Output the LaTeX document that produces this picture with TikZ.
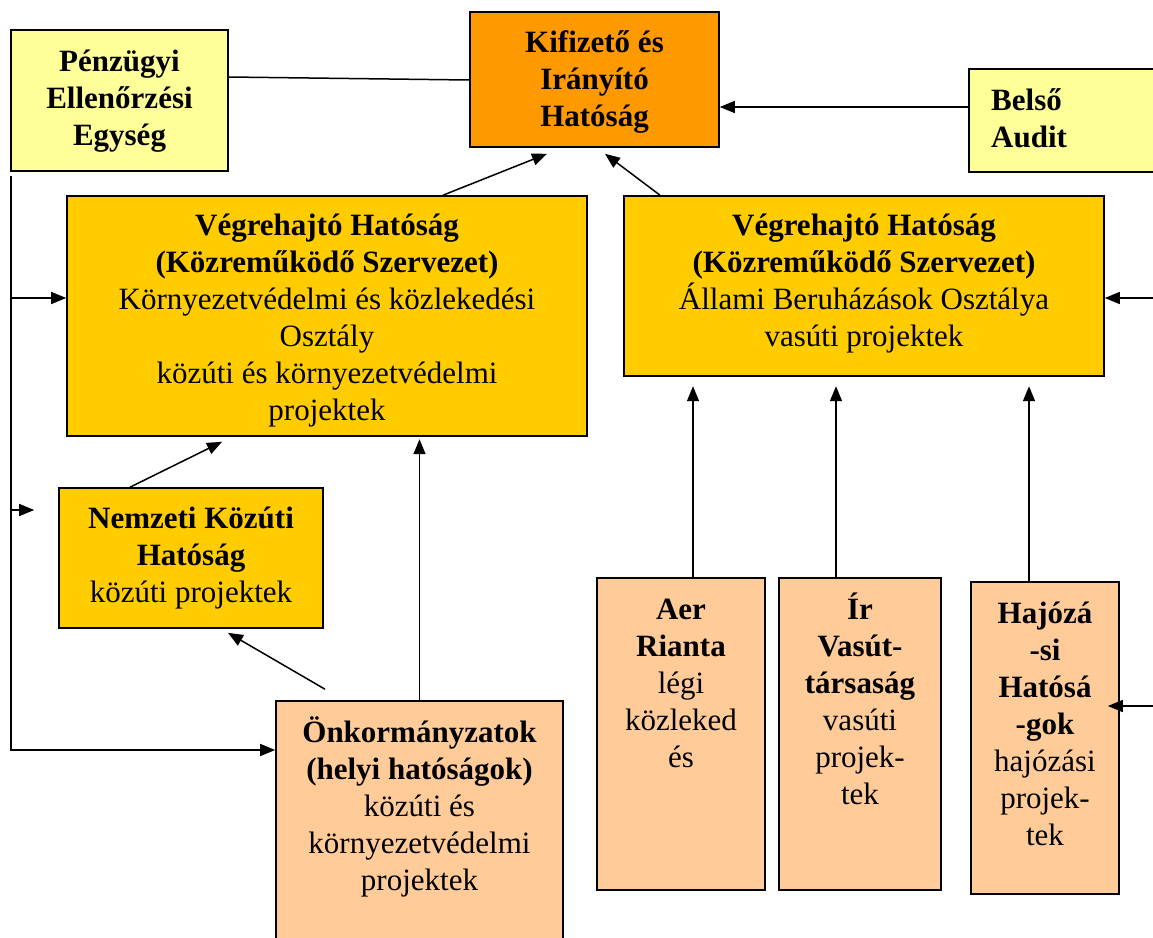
\documentclass[tikz,border=0pt]{standalone}
\usepackage{fontspec}
\setmainfont{Liberation Serif}
\usetikzlibrary{arrows.meta}

\definecolor{paleyellow}{HTML}{FFFF99}
\definecolor{darkorange}{HTML}{FF9900}
\definecolor{goldbox}{HTML}{FFCC00}
\definecolor{peach}{HTML}{FFCC99}

% invisible strut fixing the height of a text block's first line
\newcommand{\firstline}{\rule{0pt}{30pt}}

\begin{document}
\begin{tikzpicture}[x=1pt, y=-1pt,
  box/.style={draw=black, line width=1.6pt, rectangle, inner sep=0pt},
  txt/.style={inner sep=0pt, align=center, anchor=north,
    font=\fontsize{31}{37}\selectfont},
  conn/.style={line width=1.5pt, draw=black},
  arr/.style={conn, -{Triangle[length=15pt, width=12pt]}}]

\useasboundingbox (0,0) rectangle (1153,937);
\clip (0,0) rectangle (1153,937);
\fill[white] (0,0) rectangle (1153,937);

% ---- boxes ----
\node[box, fill=paleyellow, minimum width=217pt, minimum height=141pt] (pen) at (119.5,100.5) {};
\node[box, fill=darkorange, minimum width=249pt, minimum height=135pt] (kif) at (594.5,79.5) {};
\node[box, fill=paleyellow, minimum width=191pt, minimum height=103pt] (bel) at (1064.5,120.5) {};
\node[box, fill=goldbox, minimum width=520pt, minimum height=240pt] (vl) at (327,316) {};
\node[box, fill=goldbox, minimum width=480pt, minimum height=180pt] (vr) at (864,286) {};
\node[box, fill=goldbox, minimum width=264pt, minimum height=140pt] (nem) at (191,558) {};
\node[box, fill=peach, minimum width=287pt, minimum height=249pt] (onk) at (419.5,825.5) {};
\node[box, fill=peach, minimum width=168pt, minimum height=312pt] (aer) at (681,734) {};
\node[box, fill=peach, minimum width=162pt, minimum height=312pt] (ir) at (860,734) {};
\node[box, fill=peach, minimum width=148pt, minimum height=312pt] (haj) at (1045,738) {};

% ---- texts ----
\node[txt] (pent) at (119.5,41) {\firstline\textbf{Pénzügyi}\\\textbf{Ellenőrzési}\\\textbf{Egység}};
\node[txt] (kift) at (594.5,22) {\firstline\textbf{Kifizető és}\\\textbf{Irányító}\\\textbf{Hatóság}};
\node[txt, align=left, anchor=north west] (belt) at (991,80) {\firstline\textbf{Belső}\\\textbf{Audit}};
\node[txt] (vlt) at (327,205) {\firstline\textbf{Végrehajtó Hatóság}\\\textbf{(Közreműködő Szervezet)}\\Környezetvédelmi és közlekedési\\Osztály\\közúti és környezetvédelmi\\projektek};
\node[txt] (vrt) at (864,205) {\firstline\textbf{Végrehajtó Hatóság}\\\textbf{(Közreműködő Szervezet)}\\Állami Beruházások Osztálya\\vasúti projektek};
\node[txt] (nemt) at (191,498) {\firstline\textbf{Nemzeti Közúti}\\\textbf{Hatóság}\\közúti projektek};
\node[txt] (onkt) at (419.5,712) {\firstline\textbf{Önkormányzatok}\\\textbf{(helyi hatóságok)}\\közúti és\\környezetvédelmi\\projektek};
\node[txt] (aert) at (681,589) {\firstline\textbf{Aer}\\\textbf{Rianta}\\légi\\közleked\\és};
\node[txt] (irt) at (860,589) {\firstline\textbf{Ír}\\\textbf{Vasút-}\\\textbf{társaság}\\vasúti\\projek-\\tek};
\node[txt] (hajt) at (1045,593) {\firstline\textbf{Hajózá}\\\textbf{-si}\\\textbf{Hatósá}\\\textbf{-gok}\\hajózási\\projek-\\tek};

% ---- free ends of the connectors ----
\coordinate (bustop) at (11,176);
\coordinate (busbot) at (11,750);
\coordinate (bus1) at (11,298);
\coordinate (bus2) at (11,510);
\coordinate (redge1) at (1153,298);
\coordinate (redge2) at (1153,706);

% ---- connectors ----
\draw[conn] ([yshift=23.5pt]pen.east) -- ([yshift=-0.5pt]kif.west);
\draw[arr] ([yshift=13.5pt]bel.west) -- ([yshift=-27.5pt]kif.east);
\draw[arr] ([xshift=116pt]vl.north) -- ([xshift=-47.5pt, yshift=-6pt]kif.south);
\draw[arr] ([xshift=-204pt]vr.north) -- ([xshift=10.5pt, yshift=-6pt]kif.south);

\draw[arr] (bustop) -- (busbot) -- (onk.west |- busbot);
\draw[arr] (bus1) -- (vl.west |- bus1);
\draw[arr] (bus2) -- ([xshift=-24pt]nem.west |- bus2);

\draw[arr] ([xshift=-61pt]nem.north) -- ([xshift=-105pt, yshift=-5pt]vl.south);
\draw[arr] ([xshift=-94.5pt, yshift=11pt]onk.north) -- ([xshift=37pt, yshift=-4pt]nem.south);
\draw[arr] (onk.north) -- ++(0,-261);

\draw[arr] ([xshift=12pt]aer.north) -- ++(0,-191);
\draw[arr] ([xshift=-24pt]ir.north) -- ++(0,-191);
\draw[arr] ([xshift=-16pt]haj.north) -- ++(0,-195);

\draw[arr] (redge1) -- (vr.east |- redge1);
\draw[arr] (redge2) -- ([xshift=-12pt]haj.east |- redge2);
\end{tikzpicture}
\end{document}
